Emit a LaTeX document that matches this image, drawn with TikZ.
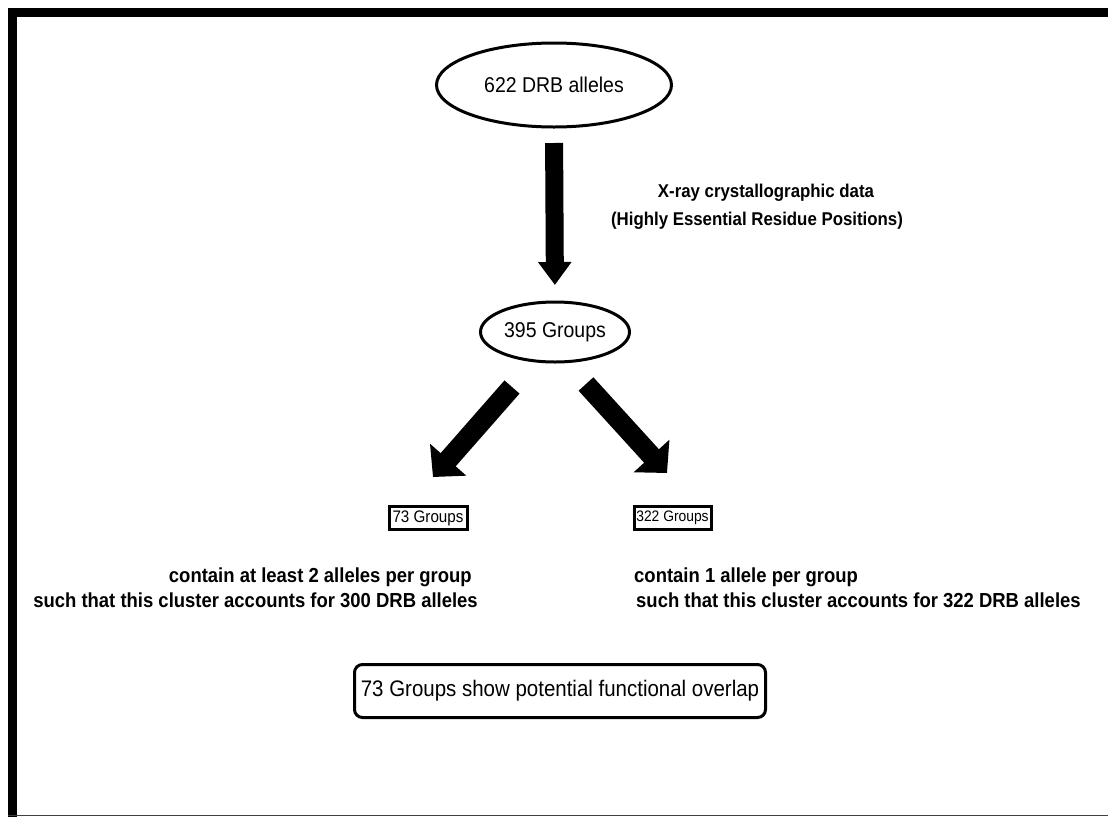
\documentclass[tikz,border=0pt]{standalone}
\usepackage{fontspec}
\setmainfont[FakeStretch=0.91]{Liberation Sans}
\usetikzlibrary{shapes.geometric,arrows.meta}
\begin{document}
\begin{tikzpicture}[x=1pt,y=-1pt,
  ell/.style={draw, ellipse, line width=3pt, inner sep=0pt, font=\fontsize{21.4}{25}\selectfont},
  gbox/.style={draw, line width=3pt, inner sep=0pt, minimum height=23pt},
  desc/.style={inner sep=0pt, font=\bfseries\fontsize{20.3}{24}\selectfont},
  xdesc/.style={inner sep=0pt, font=\bfseries\fontsize{18.5}{22}\selectfont},
  vbig/.style={line width=18pt, -{Triangle[width=32pt,length=23pt]}},
  dbig/.style={line width=20pt, -{Triangle[width=47pt,length=23pt]}}]
\useasboundingbox (0,0) rectangle (1108,817);
\fill[white] (0,0) rectangle (1108,817);
% frame
\fill[black] (8,8) rectangle (1108,16.5);
\fill[black] (8,8) rectangle (16.5,817);
\draw[line width=1.5pt, black!75] (8,815.5) -- (1108,815.5);
% nodes
\node[ell, minimum width=235pt, minimum height=84pt] (e622) at (554,85) {622 DRB alleles};
\node[ell, minimum width=149pt, minimum height=60pt] (e395) at (555,332) {395 Groups};
\node[xdesc, anchor=base] (x1) at (766,197) {X-ray crystallographic data};
\node[xdesc, anchor=base] (x2) at (757,225) {(Highly Essential Residue Positions)};
\node[gbox, minimum width=78pt, font=\fontsize{16.7}{20}\selectfont] (g73) at (428,518) {73 Groups};
\node[gbox, minimum width=77pt, font=\fontsize{15.2}{18}\selectfont] (g322) at (672.5,518) {322 Groups};
\node[desc, anchor=base east] (l1) at (472,582) {contain at least 2 alleles per group};
\node[desc, anchor=base east] (l2) at (478,607) {such that this cluster accounts for 300 DRB alleles};
\node[desc, anchor=base west] (r1) at (634,582) {contain 1 allele per group};
\node[desc, anchor=base west] (r2) at (636,607) {such that this cluster accounts for 322 DRB alleles};
\node[draw, rounded corners=8pt, line width=3pt, inner sep=0pt, minimum width=411pt, minimum height=53pt,
      font=\fontsize{22.5}{26}\selectfont] (ov) at (560,691) {73 Groups show potential functional overlap};
% connectors
\draw[vbig, shorten <=14.5pt, shorten >=15.5pt] (e622.south) -- (e395.north);
\coordinate (la1) at (512,387);
\coordinate (la2) at (433,477);
\coordinate (ra1) at (586,384);
\coordinate (ra2) at (667,473);
\draw[dbig] (la1) -- (la2);
\draw[dbig] (ra1) -- (ra2);
\end{tikzpicture}
\end{document}
